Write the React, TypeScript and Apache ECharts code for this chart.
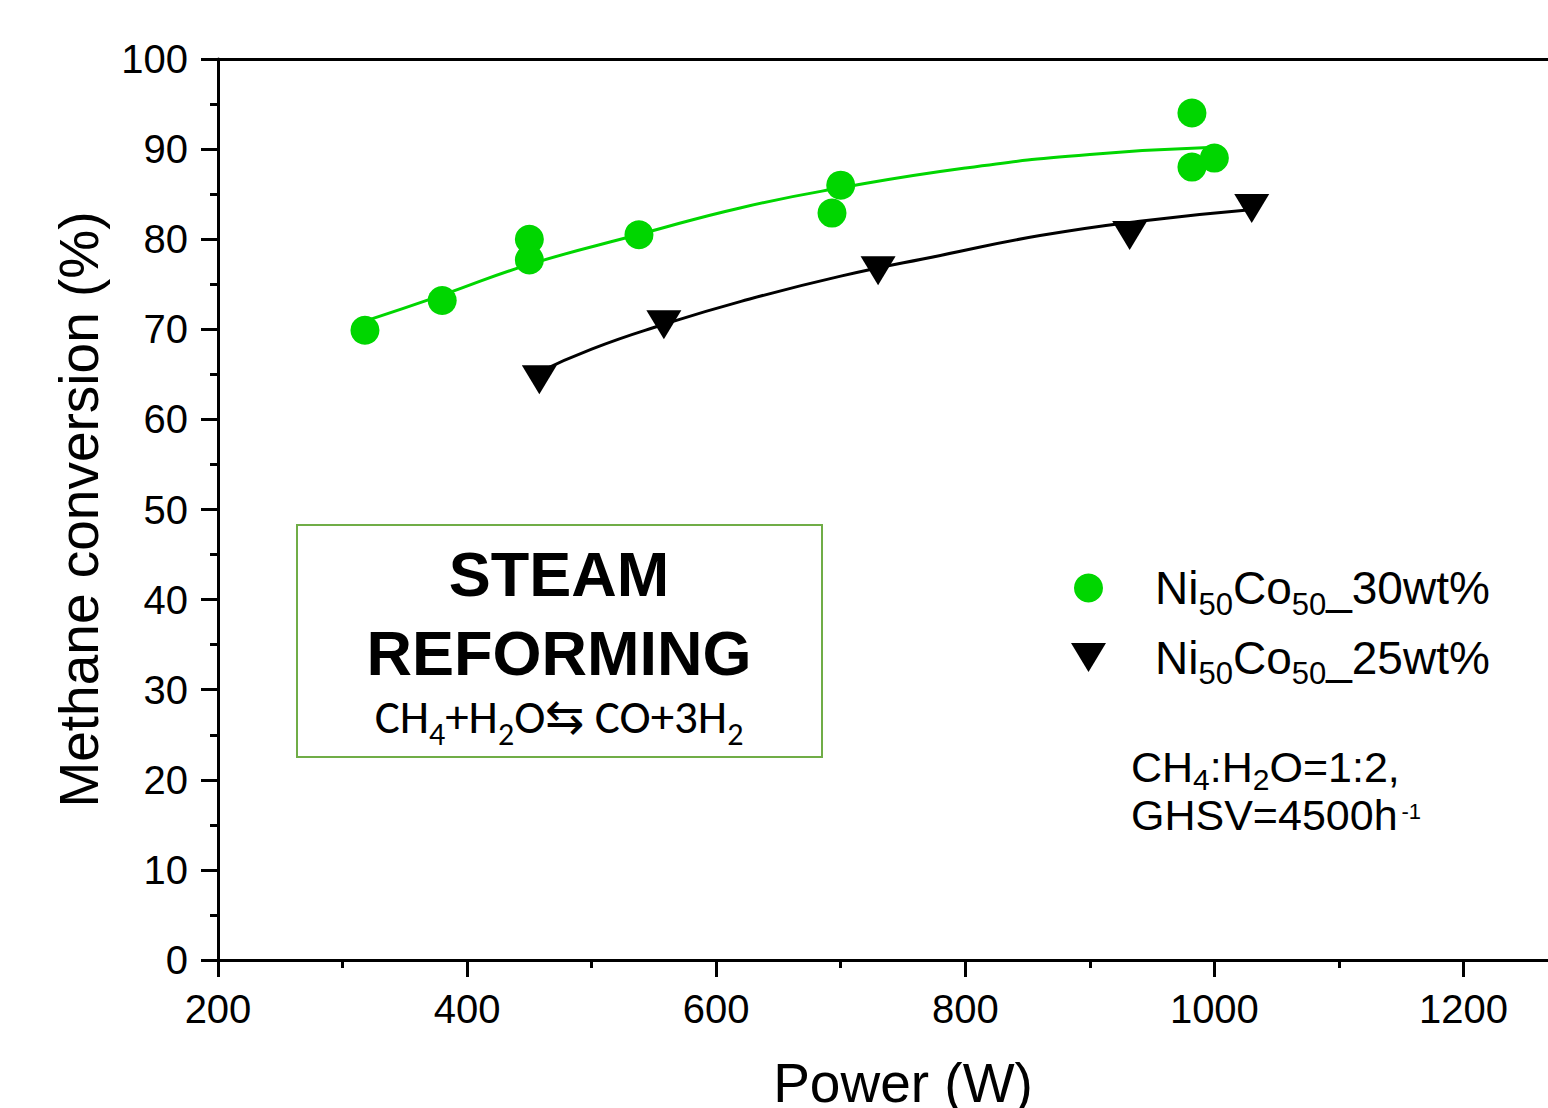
import React, { useEffect, useRef } from "react";
import * as echarts from "echarts";

// ---- data ----
const seriesNames = ["Ni50Co50_30wt%", "Ni50Co50_25wt%"];

const powerNiCo30 = [318, 380, 450, 450, 538, 693, 700, 982, 982, 1000];
const convNiCo30 = [69.9, 73.2, 80.0, 77.7, 80.5, 82.9, 86.0, 94.0, 88.0, 89.0];

const powerNiCo25 = [458, 558, 730, 932, 1030];
const convNiCo25 = [64.4, 70.5, 76.5, 80.4, 83.4];

// fitted curves
const fitPower30 = [318, 380, 450, 540, 620, 700, 800, 900, 1000];
const fitConv30 = [70.9, 73.8, 77.2, 80.6, 83.5, 85.7, 87.9, 89.4, 90.2];

const fitPower25 = [457, 500, 557, 620, 700, 780, 860, 940, 1031];
const fitConv25 = [65.2, 67.8, 70.5, 73.1, 75.9, 78.2, 80.4, 82.0, 83.3];

const xMin = 200;
const xMax = 1300;
const xMajor = 200;
const xMinor = 100;
const yMin = 0;
const yMax = 100;
const yMajor = 10;

const GREEN = "#00D600";
const FONT = "'Liberation Sans', Arial, Helvetica, sans-serif";
const CAL = "Carlito, Lato, 'Open Sans', sans-serif";

const zip = (xs: number[], ys: number[]) => xs.map((x, i) => [x, ys[i]]);

export default function App() {
  const ref = useRef<HTMLDivElement>(null);

  useEffect(() => {
    if (!ref.current) return;
    const chart = echarts.init(ref.current, null, { renderer: "svg" });

    const legendRich = {
      n: { fontSize: 46, fontFamily: FONT, color: "#000", lineHeight: 50, padding: [0, 0, 0, 44] },
      m: { fontSize: 46, fontFamily: FONT, color: "#000", lineHeight: 50 },
      s: { fontSize: 31, fontFamily: FONT, color: "#000", lineHeight: 50, verticalAlign: "bottom", height: 18 },
    };

    const axisLineStyle = { color: "#000", width: 3 };
    const plainNum = (v: number) => String(v);

    const option: any = {
      animation: false,
      backgroundColor: "#fff",
      grid: {
        left: 218,
        top: 59,
        right: -40,
        bottom: 148,
        containLabel: false,
        outerBoundsMode: "none",
      },
      xAxis: [
        {
          type: "value",
          position: "bottom",
          min: xMin,
          max: xMax,
          interval: xMajor,
          name: "Power (W)",
          nameLocation: "middle",
          nameGap: 95,
          nameTextStyle: { fontSize: 55, fontFamily: FONT, color: "#000" },
          axisLine: { show: true, onZero: false, lineStyle: axisLineStyle },
          axisTick: { show: true, inside: false, length: 17, lineStyle: axisLineStyle },
          axisLabel: {
            fontSize: 40,
            fontFamily: FONT,
            color: "#000",
            margin: 29,
            formatter: plainNum,
            showMaxLabel: false,
          },
          splitLine: { show: false },
        },
        {
          type: "value",
          position: "bottom",
          min: xMin,
          max: xMax,
          interval: xMinor,
          axisLine: { show: false },
          axisTick: { show: true, inside: false, length: 8, lineStyle: axisLineStyle },
          axisLabel: { show: false },
          splitLine: { show: false },
        },
        {
          type: "value",
          position: "top",
          min: xMin,
          max: xMax,
          axisLine: { show: true, onZero: false, lineStyle: axisLineStyle },
          axisTick: { show: false },
          axisLabel: { show: false },
          splitLine: { show: false },
        },
      ],
      yAxis: [
        {
          type: "value",
          position: "left",
          min: yMin,
          max: yMax,
          interval: yMajor,
          name: "Methane conversion (%)",
          nameLocation: "middle",
          nameGap: 112,
          nameTextStyle: { fontSize: 55, fontFamily: FONT, color: "#000" },
          axisLine: { show: true, onZero: false, lineStyle: axisLineStyle },
          axisTick: { show: true, inside: false, length: 17, lineStyle: axisLineStyle },
          minorTick: { show: true, splitNumber: 2, length: 8, lineStyle: axisLineStyle },
          axisLabel: { fontSize: 40, fontFamily: FONT, color: "#000", margin: 30, formatter: plainNum },
          splitLine: { show: false },
          minorSplitLine: { show: false },
        },
      ],
      legend: {
        orient: "vertical",
        left: 1071,
        top: 565,
        itemWidth: 35,
        itemHeight: 29,
        itemGap: 15,
        padding: 0,
        data: [
          { name: seriesNames[0], icon: "circle" },
          { name: seriesNames[1], icon: "path://M0,0L35,0L17.5,29Z" },
        ],
        formatter: (name: string) =>
          name === seriesNames[0]
            ? "{n|Ni}{s|50}{m|Co}{s|50}{m|_30wt%}"
            : "{n|Ni}{s|50}{m|Co}{s|50}{m|_25wt%}",
        textStyle: { rich: legendRich },
      },
      graphic: [
        {
          type: "rect",
          shape: { x: 297, y: 525, width: 525, height: 232 },
          style: { fill: "none", stroke: "#70AD47", lineWidth: 2 },
          z: 10,
        },
        {
          type: "text",
          x: 559,
          y: 574,
          style: {
            text: "STEAM",
            fontSize: 63,
            fontWeight: "bold",
            fontFamily: FONT,
            fill: "#000",
            align: "center",
            verticalAlign: "middle",
          },
          z: 10,
        },
        {
          type: "text",
          x: 559,
          y: 653,
          style: {
            text: "REFORMING",
            fontSize: 63,
            fontWeight: "bold",
            fontFamily: FONT,
            fill: "#000",
            align: "center",
            verticalAlign: "middle",
          },
          z: 10,
        },
        {
          type: "text",
          x: 559,
          y: 717,
          style: {
            text: "{a|CH}{s|4}{a|+H}{s|2}{a|O⇆ CO+3H}{s|2}",
            align: "center",
            verticalAlign: "middle",
            rich: {
              a: { fontSize: 47, fontFamily: CAL, fill: "#000", lineHeight: 52 },
              s: { fontSize: 32, fontFamily: CAL, fill: "#000", lineHeight: 52, verticalAlign: "bottom", height: 18 },
            },
          },
          z: 10,
        },
        {
          type: "text",
          x: 1131,
          y: 743,
          style: {
            text: "{a|CH}{s|4}{a|:H}{s|2}{a|O=1:2,}\n{a|GHSV=4500h}{p|-1}",
            align: "left",
            verticalAlign: "top",
            rich: {
              a: { fontSize: 43, fontFamily: FONT, fill: "#000", lineHeight: 48 },
              s: { fontSize: 30, fontFamily: FONT, fill: "#000", lineHeight: 48, verticalAlign: "bottom", height: 23 },
              p: { fontSize: 22, fontFamily: FONT, fill: "#000", lineHeight: 48, verticalAlign: "top", height: 40, padding: [0, 0, 0, 4] },
            },
          },
          z: 10,
        },
      ],
      series: [
        {
          name: "fit30",
          type: "line",
          xAxisIndex: 0,
          yAxisIndex: 0,
          data: zip(fitPower30, fitConv30),
          smooth: true,
          showSymbol: false,
          symbol: "none",
          lineStyle: { color: GREEN, width: 3 },
          z: 2,
          silent: true,
        },
        {
          name: "fit25",
          type: "line",
          xAxisIndex: 0,
          yAxisIndex: 0,
          data: zip(fitPower25, fitConv25),
          smooth: true,
          showSymbol: false,
          symbol: "none",
          lineStyle: { color: "#000", width: 3 },
          z: 2,
          silent: true,
        },
        {
          name: seriesNames[0],
          type: "scatter",
          xAxisIndex: 0,
          yAxisIndex: 0,
          data: zip(powerNiCo30, convNiCo30),
          symbol: "circle",
          symbolSize: 29,
          itemStyle: { color: GREEN, opacity: 1 },
          z: 3,
        },
        {
          name: seriesNames[1],
          type: "scatter",
          xAxisIndex: 0,
          yAxisIndex: 0,
          data: zip(powerNiCo25, convNiCo25),
          symbol: "triangle",
          symbolRotate: 180,
          symbolSize: [35, 29],
          itemStyle: { color: "#000", opacity: 1 },
          z: 3,
        },
      ],
    };

    chart.setOption(option);
    return () => chart.dispose();
  }, []);

  return (
    <div
      ref={ref}
      style={{ position: "absolute", left: 0, top: 0, width: 1548, height: 1108, background: "#fff" }}
    />
  );
}
